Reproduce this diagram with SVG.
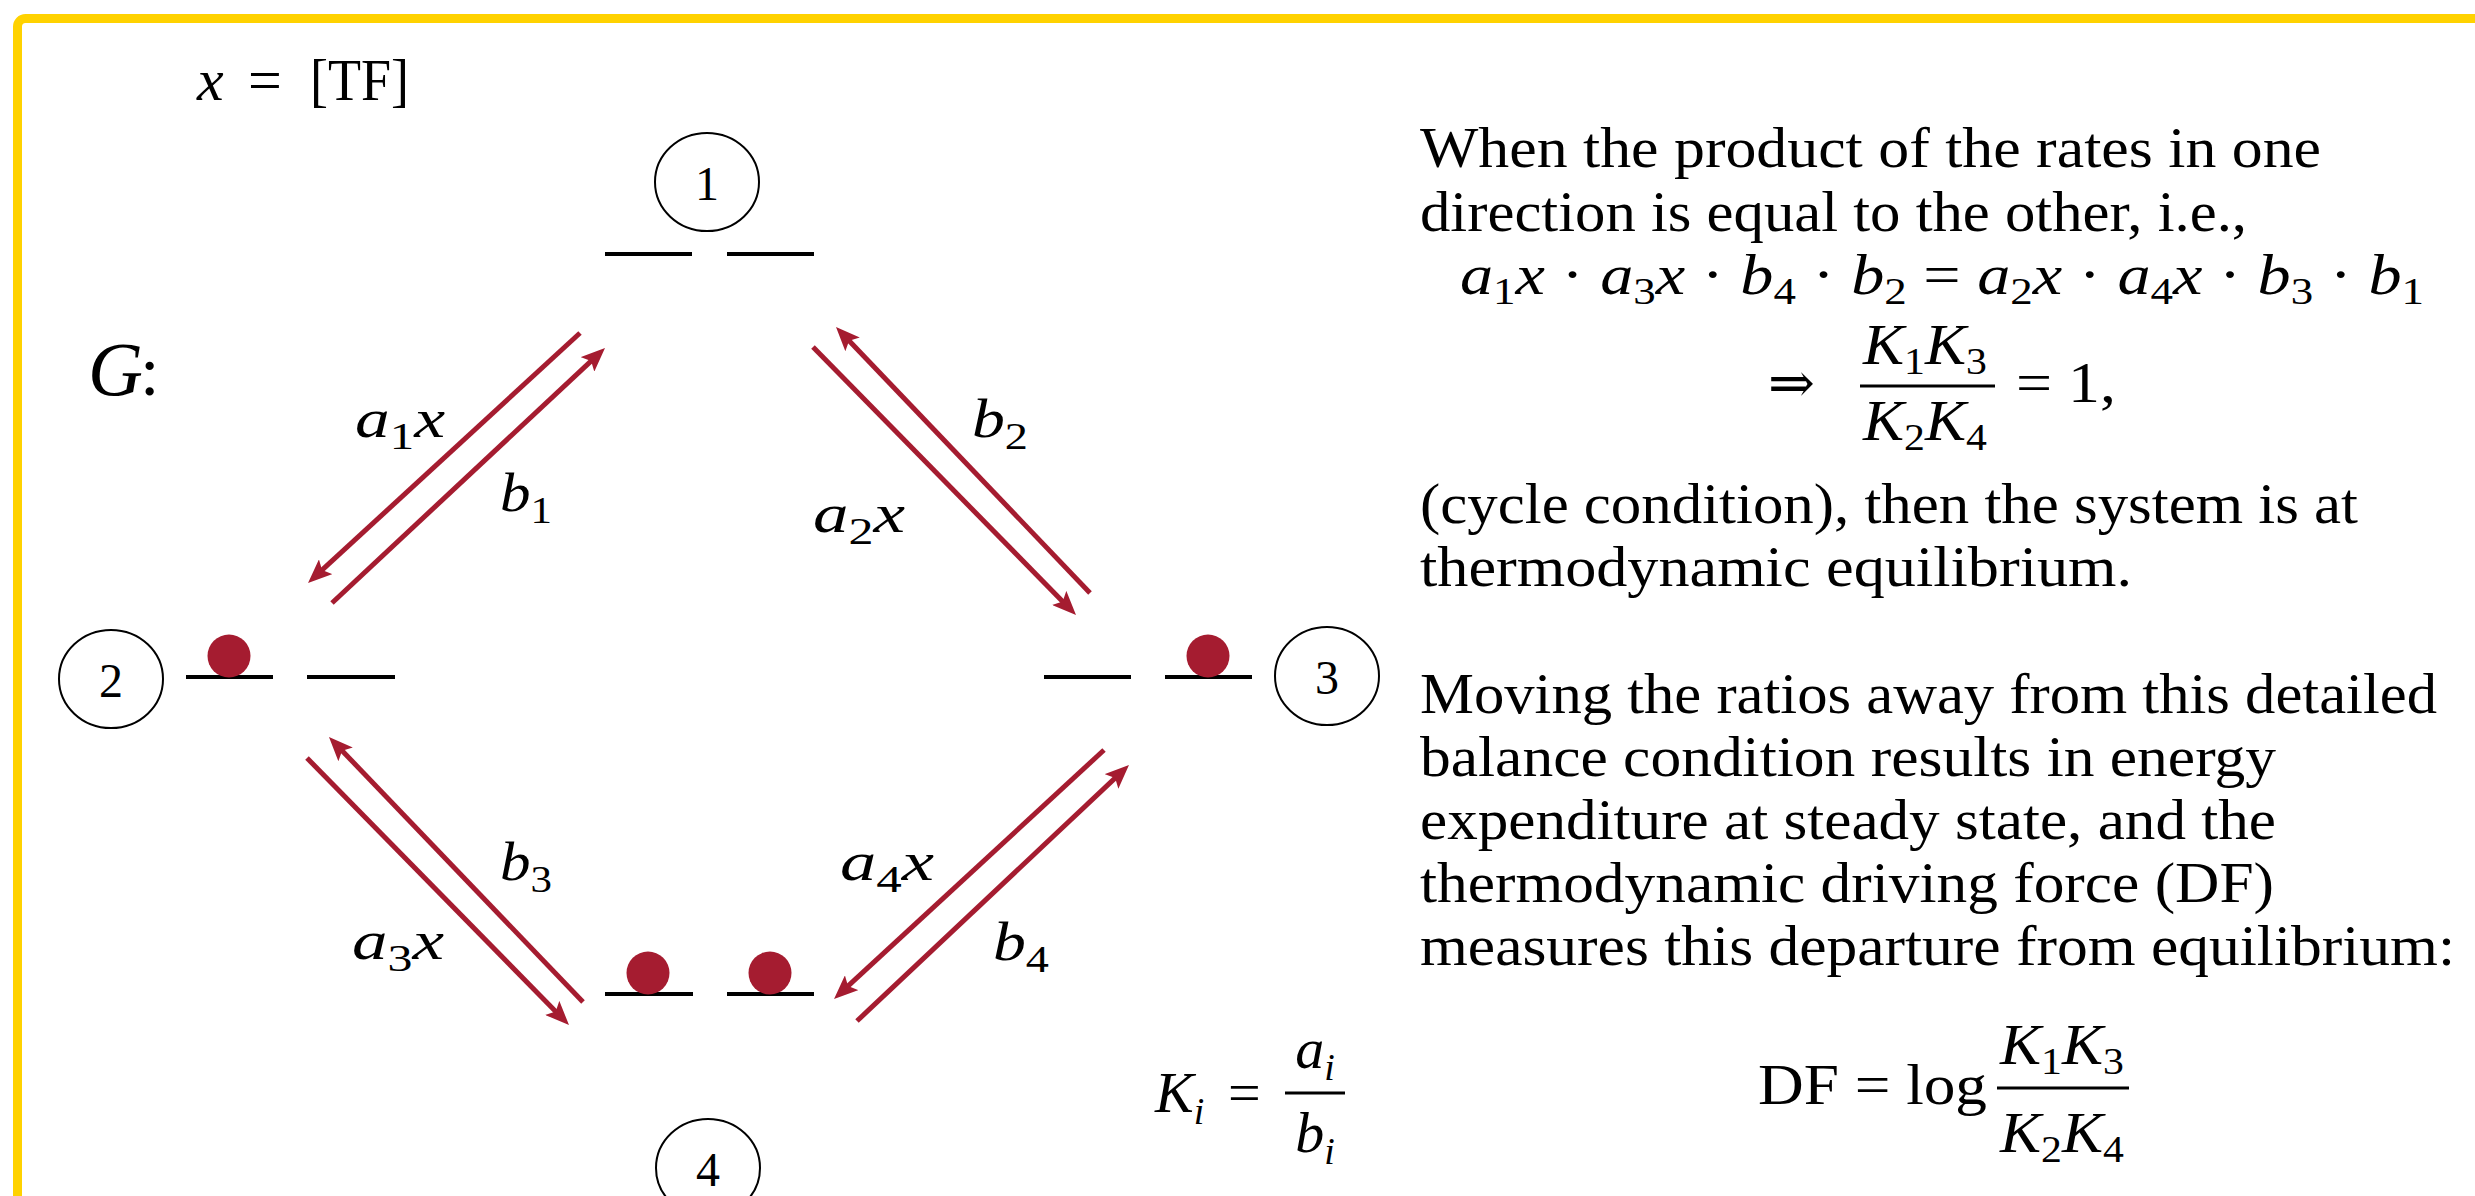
<svg xmlns="http://www.w3.org/2000/svg" width="2475" height="1196" viewBox="0 0 2475 1196">
<style>
.t{font-family:"Liberation Serif","DejaVu Serif",serif;font-size:56px;fill:#000}
.m{font-family:"Liberation Serif","DejaVu Serif",serif;font-style:italic;font-size:56px;fill:#000}
.r{font-family:"Liberation Serif","DejaVu Serif",serif;font-style:italic;font-size:54px;fill:#000}
.u{font-style:normal}
.s{font-style:normal;font-size:38px}
.num{font-family:"Liberation Serif",serif;font-size:48px;text-anchor:middle;fill:#000}
.ring{fill:none;stroke:#000;stroke-width:2}
.lvl{stroke:#000;stroke-width:4}
.ball{fill:#A51C30}
.arr{stroke:#A51C30;stroke-width:5;fill:none;marker-end:url(#ah)}
.bar{stroke:#000;stroke-width:3}
</style>
<defs>
<marker id="ah" markerUnits="userSpaceOnUse" markerWidth="26" markerHeight="20" refX="14" refY="10" orient="auto">
<path d="M0,0 L24,10 L0,20 L5,10 z" fill="#A51C30"/>
</marker>
</defs>
<rect x="0" y="0" width="2475" height="1196" fill="#fff"/>
<rect x="17.5" y="18.5" width="2520" height="1260" rx="8" fill="none" stroke="#FFD200" stroke-width="9"/>

<g id="header">
<text class="m" x="197" y="100" style="font-size:60px">x</text>
<text class="t" x="248" y="100" style="font-size:60px">=</text>
<text class="t" x="310" y="100" style="font-size:60px" textLength="99" lengthAdjust="spacingAndGlyphs">[TF]</text>
<text class="m" x="88" y="395" style="font-size:76px">G</text>
<text class="t" x="140" y="395" style="font-size:70px">:</text>
</g>

<g id="node1">
<ellipse class="ring" cx="707" cy="182" rx="52" ry="49"/>
<text class="num" x="707" y="200">1</text>
<line class="lvl" x1="605" y1="254" x2="692" y2="254"/>
<line class="lvl" x1="727" y1="254" x2="814" y2="254"/>
</g>
<g id="node2">
<ellipse class="ring" cx="111" cy="679" rx="52" ry="49"/>
<text class="num" x="111" y="697">2</text>
<line class="lvl" x1="186" y1="677" x2="273" y2="677"/>
<line class="lvl" x1="307" y1="677" x2="395" y2="677"/>
<circle class="ball" cx="229" cy="656" r="21.5"/>
</g>
<g id="node3">
<ellipse class="ring" cx="1327" cy="676" rx="52" ry="49"/>
<text class="num" x="1327" y="694">3</text>
<line class="lvl" x1="1044" y1="677" x2="1131" y2="677"/>
<line class="lvl" x1="1165" y1="677" x2="1252" y2="677"/>
<circle class="ball" cx="1208" cy="656" r="21.5"/>
</g>
<g id="node4">
<ellipse class="ring" cx="708" cy="1168" rx="52" ry="49"/>
<text class="num" x="708" y="1186">4</text>
<line class="lvl" x1="605" y1="994" x2="693" y2="994"/>
<line class="lvl" x1="727" y1="994" x2="814" y2="994"/>
<circle class="ball" cx="648" cy="973" r="21.5"/>
<circle class="ball" cx="770" cy="973" r="21.5"/>
</g>

<g id="connectors">
<line class="arr" x1="580" y1="333" x2="315.4" y2="576.2"/>
<line class="arr" x1="332" y1="603" x2="597.7" y2="354.8"/>
<line class="arr" x1="813" y1="347" x2="1069" y2="607.9"/>
<line class="arr" x1="1090" y1="593" x2="842.9" y2="334.2"/>
<line class="arr" x1="307" y1="758" x2="562" y2="1017.9"/>
<line class="arr" x1="583" y1="1002" x2="335.9" y2="744.2"/>
<line class="arr" x1="1104" y1="750" x2="841.4" y2="992.2"/>
<line class="arr" x1="857" y1="1021" x2="1121.7" y2="771.9"/>
</g>

<g id="labels">
<text class="r" x="355" y="437" textLength="90" lengthAdjust="spacingAndGlyphs">a<tspan class="s" dy="12">1</tspan><tspan dy="-12">x</tspan></text>
<text class="r" x="500" y="511" textLength="52" lengthAdjust="spacingAndGlyphs">b<tspan class="s" dy="12">1</tspan></text>
<text class="r" x="813" y="532" textLength="92" lengthAdjust="spacingAndGlyphs">a<tspan class="s" dy="12">2</tspan><tspan dy="-12">x</tspan></text>
<text class="r" x="972" y="437" textLength="56" lengthAdjust="spacingAndGlyphs">b<tspan class="s" dy="12">2</tspan></text>
<text class="r" x="500" y="880" textLength="52" lengthAdjust="spacingAndGlyphs">b<tspan class="s" dy="12">3</tspan></text>
<text class="r" x="352" y="959" textLength="92" lengthAdjust="spacingAndGlyphs">a<tspan class="s" dy="12">3</tspan><tspan dy="-12">x</tspan></text>
<text class="r" x="840" y="880" textLength="94" lengthAdjust="spacingAndGlyphs">a<tspan class="s" dy="12">4</tspan><tspan dy="-12">x</tspan></text>
<text class="r" x="993" y="960" textLength="56" lengthAdjust="spacingAndGlyphs">b<tspan class="s" dy="12">4</tspan></text>
</g>

<g id="ki">
<text class="m" x="1155" y="1112" style="font-size:58px">K<tspan class="s" dy="12" style="font-style:italic">i</tspan></text>
<text class="t" x="1228" y="1112" style="font-size:58px">=</text>
<line class="bar" x1="1285" y1="1093" x2="1345" y2="1093"/>
<text class="m" x="1315" y="1068" text-anchor="middle" style="font-size:58px">a<tspan class="s" dy="12" style="font-style:italic">i</tspan></text>
<text class="m" x="1315" y="1152" text-anchor="middle" style="font-size:58px">b<tspan class="s" dy="12" style="font-style:italic">i</tspan></text>
</g>

<g id="text">
<text class="t" x="1420" y="167" textLength="901" lengthAdjust="spacingAndGlyphs">When the product of the rates in one</text>
<text class="t" x="1420" y="231" textLength="827" lengthAdjust="spacingAndGlyphs">direction is equal to the other, i.e.,</text>
<text class="m" x="1460" y="294" textLength="964" lengthAdjust="spacingAndGlyphs">a<tspan class="s" dy="10">1</tspan><tspan dy="-10">x</tspan><tspan class="u"> · </tspan>a<tspan class="s" dy="10">3</tspan><tspan dy="-10">x</tspan><tspan class="u"> · </tspan>b<tspan class="s" dy="10">4</tspan><tspan class="u" dy="-10"> · </tspan>b<tspan class="s" dy="10">2</tspan><tspan class="u" dy="-10"> = </tspan>a<tspan class="s" dy="10">2</tspan><tspan dy="-10">x</tspan><tspan class="u"> · </tspan>a<tspan class="s" dy="10">4</tspan><tspan dy="-10">x</tspan><tspan class="u"> · </tspan>b<tspan class="s" dy="10">3</tspan><tspan class="u" dy="-10"> · </tspan>b<tspan class="s" dy="10">1</tspan></text>
<text class="t" x="1768" y="402">⇒</text>
<text class="m" x="1925" y="364" text-anchor="middle" textLength="124" lengthAdjust="spacingAndGlyphs">K<tspan class="s" dy="10">1</tspan><tspan dy="-10">K</tspan><tspan class="s" dy="10">3</tspan></text>
<line class="bar" x1="1860" y1="386" x2="1995" y2="386"/>
<text class="m" x="1925" y="440" text-anchor="middle" textLength="124" lengthAdjust="spacingAndGlyphs">K<tspan class="s" dy="10">2</tspan><tspan dy="-10">K</tspan><tspan class="s" dy="10">4</tspan></text>
<text class="t" x="2016" y="402" textLength="100" lengthAdjust="spacingAndGlyphs">= 1,</text>
<text class="t" x="1420" y="523" textLength="938" lengthAdjust="spacingAndGlyphs">(cycle condition), then the system is at</text>
<text class="t" x="1420" y="586" textLength="712" lengthAdjust="spacingAndGlyphs">thermodynamic equilibrium.</text>
<text class="t" x="1420" y="713" textLength="1017" lengthAdjust="spacingAndGlyphs">Moving the ratios away from this detailed</text>
<text class="t" x="1420" y="776" textLength="856" lengthAdjust="spacingAndGlyphs">balance condition results in energy</text>
<text class="t" x="1420" y="839" textLength="856" lengthAdjust="spacingAndGlyphs">expenditure at steady state, and the</text>
<text class="t" x="1420" y="902" textLength="854" lengthAdjust="spacingAndGlyphs">thermodynamic driving force (DF)</text>
<text class="t" x="1420" y="965" textLength="1035" lengthAdjust="spacingAndGlyphs">measures this departure from equilibrium:</text>
<text class="t" x="1758" y="1104" textLength="229" lengthAdjust="spacingAndGlyphs">DF = log</text>
<text class="m" x="2062" y="1064" text-anchor="middle" textLength="124" lengthAdjust="spacingAndGlyphs">K<tspan class="s" dy="10">1</tspan><tspan dy="-10">K</tspan><tspan class="s" dy="10">3</tspan></text>
<line class="bar" x1="1997" y1="1088" x2="2129" y2="1088"/>
<text class="m" x="2062" y="1152" text-anchor="middle" textLength="124" lengthAdjust="spacingAndGlyphs">K<tspan class="s" dy="10">2</tspan><tspan dy="-10">K</tspan><tspan class="s" dy="10">4</tspan></text>
</g>
</svg>
